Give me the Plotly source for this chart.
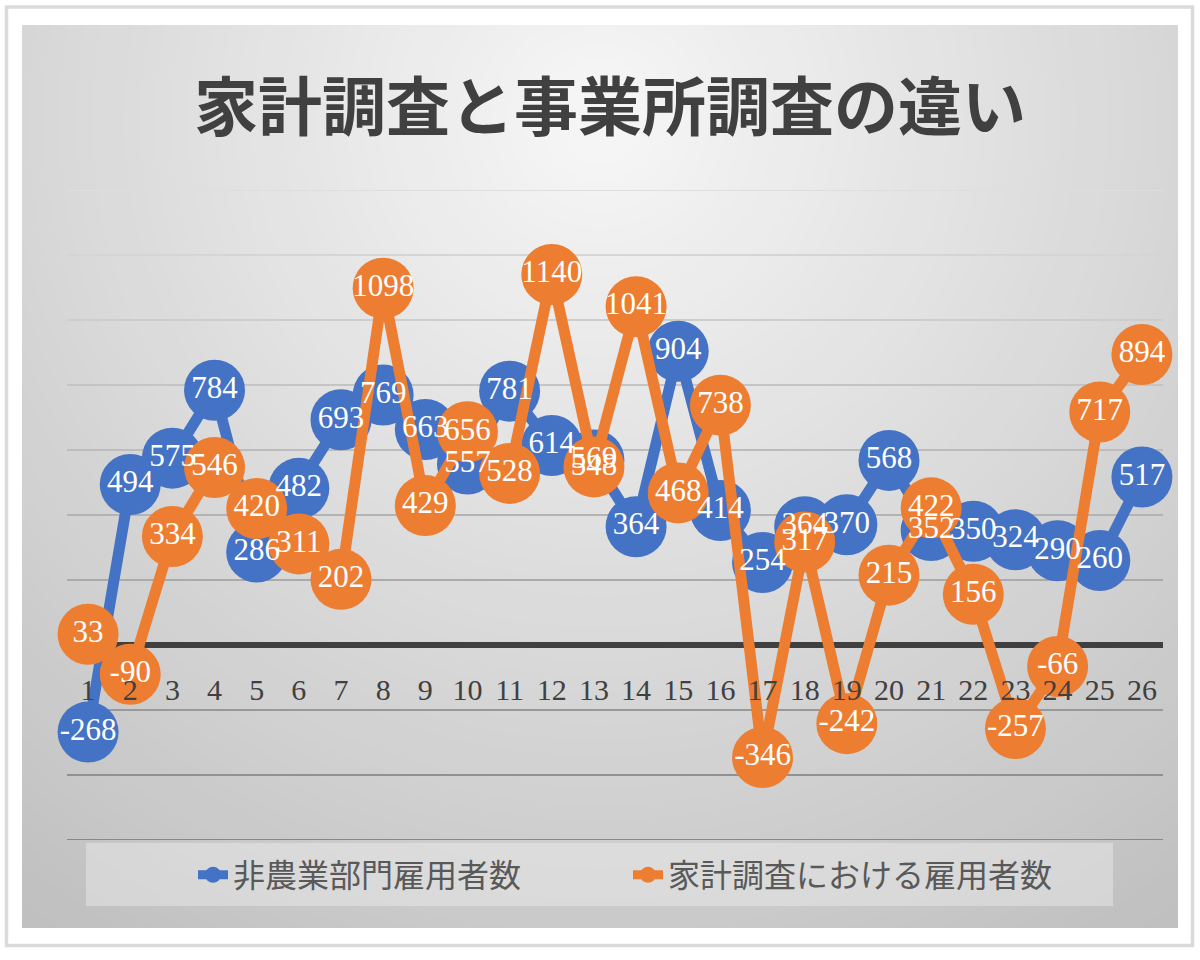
import plotly.graph_objects as go

months = list(range(1, 27))
nonfarm = [-268, 494, 575, 784, 286, 482, 693, 769, 663, 557, 781, 614, 569,
           364, 904, 414, 254, 364, 370, 568, 352, 350, 324, 290, 260, 517]
household = [33, -90, 334, 546, 420, 311, 202, 1098, 429, 656, 528, 1140, 548,
             1041, 468, 738, -346, 317, -242, 215, 422, 156, -257, -66, 717, 894]
series_names = ["非農業部門雇用者数", "家計調査における雇用者数"]
title_text = "家計調査と事業所調査の違い"
y_grid = [-600, -400, -200, 200, 400, 600, 800, 1000, 1200, 1400]

BLUE = "#4472C4"
ORANGE = "#ED7D31"

W, H = 1200, 960
L, R, T, B = 67, 1163, 190, 840


def px2x(px):
    return (px - L) / (R - L)


def py2y(py):
    return (B - py) / (B - T)


shapes = []
# radial gradient background (concentric circles)
cx, cy = 600, 120
for r in range(1100, 0, -16):
    v = 247 - 0.056 * r
    v = max(180, min(247, v))
    c = int(round(v))
    shapes.append(dict(type="circle", xref="paper", yref="paper",
                       x0=px2x(cx - r), x1=px2x(cx + r),
                       y0=py2y(cy + r), y1=py2y(cy - r),
                       fillcolor=f"rgb({c},{c},{c})", line=dict(width=0),
                       layer="below"))
# white frame around the chart area
for (a, b, c2, d) in [(0, 0, W, 25), (0, 928, W, H), (0, 0, 22, H), (1178, 0, W, H)]:
    shapes.append(dict(type="rect", xref="paper", yref="paper",
                       x0=px2x(a), x1=px2x(c2), y0=py2y(d), y1=py2y(b),
                       fillcolor="white", line=dict(width=0), layer="below"))
shapes.append(dict(type="rect", xref="paper", yref="paper",
                   x0=px2x(6.5), x1=px2x(1192.5), y0=py2y(945.5), y1=py2y(7),
                   fillcolor="rgba(0,0,0,0)", line=dict(width=3.5, color="#dadada"),
                   layer="below"))
# gridlines with color varying top to bottom
for gv in y_grid:
    py = B - (gv + 600) / 2000 * (B - T)
    t = (py - T) / (B - T)
    c = int(round(222 - t * 86))
    shapes.append(dict(type="line", xref="paper", yref="y",
                       x0=0, x1=1, y0=gv, y1=gv,
                       line=dict(width=2, color=f"rgb({c},{c},{c})"),
                       layer="below"))
# legend box
shapes.append(dict(type="rect", xref="paper", yref="paper",
                   x0=px2x(86), x1=px2x(1113), y0=py2y(906), y1=py2y(843),
                   fillcolor="rgba(245,245,245,0.38)", line=dict(width=0),
                   layer="below"))

fig = go.Figure()
for vals, col in [(nonfarm, BLUE), (household, ORANGE)]:
    fig.add_trace(go.Scatter(x=months, y=vals, mode="lines+markers",
                             line=dict(color=col, width=11),
                             marker=dict(color=col, size=61),
                             cliponaxis=False,
                             showlegend=False, hoverinfo="skip"))
for vals in [nonfarm, household]:
    fig.add_trace(go.Scatter(x=months, y=vals, mode="text",
                             text=[str(v) for v in vals],
                             textposition="middle center",
                             textfont=dict(family="Liberation Serif", size=31, color="white"),
                             cliponaxis=False,
                             showlegend=False, hoverinfo="skip"))
for name, col in zip(series_names, [BLUE, ORANGE]):
    fig.add_trace(go.Scatter(x=[None], y=[None], mode="lines+markers", name=name,
                             line=dict(color=col, width=9),
                             marker=dict(color=col, size=16)))

fig.update_layout(
    width=W, height=H,
    margin=dict(l=L, r=W - R, t=T, b=H - B),
    paper_bgcolor="white",
    plot_bgcolor="rgba(0,0,0,0)",
    shapes=shapes,
    title=dict(text=title_text, x=610 / W, xref="container", xanchor="center",
               y=1 - 108 / H, yref="container", yanchor="middle",
               font=dict(family="Noto Sans CJK JP", size=64, color="#404040", weight="bold")),
    xaxis=dict(range=[0.5, 26.5], tickmode="array", tickvals=months,
               ticktext=[str(m) for m in months],
               showgrid=False, zeroline=False, showline=False,
               anchor="free", position=py2y(645),
               ticks="outside", ticklen=18, tickcolor="rgba(0,0,0,0)",
               tickfont=dict(family="Liberation Serif", size=30, color="#404040")),
    yaxis=dict(range=[-600, 1400], showgrid=False, showticklabels=False,
               zeroline=True, zerolinecolor="#404040", zerolinewidth=6),
    legend=dict(orientation="h", x=px2x(193), xanchor="left",
                y=py2y(875), yanchor="middle",
                bgcolor="rgba(0,0,0,0)",
                font=dict(family="Noto Sans CJK JP", size=32, color="#595959"),
                entrywidth=390, entrywidthmode="pixels"),
)

fig.write_html("out.html")
